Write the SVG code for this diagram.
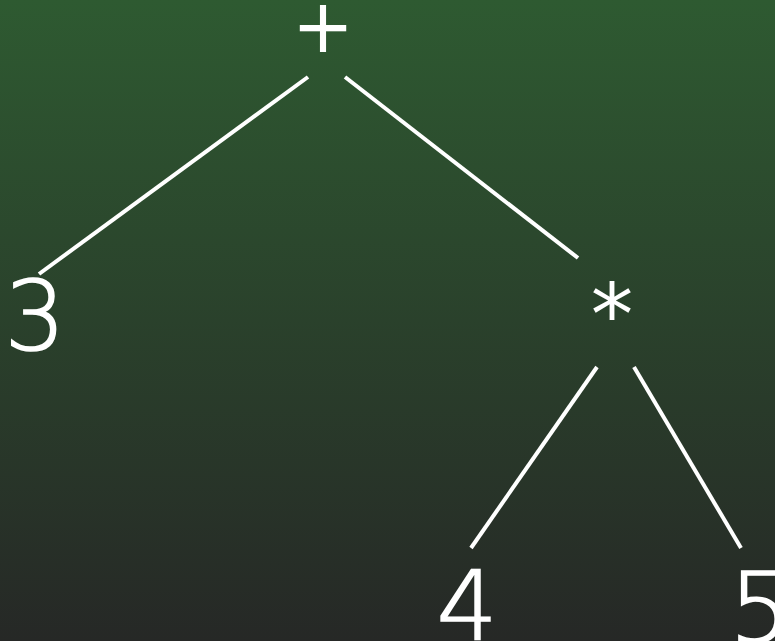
<svg xmlns="http://www.w3.org/2000/svg" width="775" height="641" viewBox="0 0 775 641">
<defs>
<linearGradient id="bg" x1="0" y1="0" x2="0" y2="1">
<stop offset="0" stop-color="#2e5a31"/>
<stop offset="1" stop-color="#262826"/>
</linearGradient>
<style>
.lbl{font-family:"DejaVu Sans",sans-serif;font-weight:200;font-size:96px;fill:#ffffff;stroke:#ffffff;stroke-width:1.6;text-anchor:middle}
.op{font-family:"DejaVu Sans",sans-serif;font-weight:400;fill:#ffffff;text-anchor:middle}
.edge{stroke:#ffffff;stroke-width:4;fill:none}
</style>
</defs>
<rect width="775" height="641" fill="url(#bg)"/>
<g id="edges">
<line class="edge" x1="308" y1="77" x2="39" y2="274"/>
<line class="edge" x1="345" y1="77" x2="578" y2="258"/>
<line class="edge" x1="597" y1="367" x2="471" y2="548"/>
<line class="edge" x1="634" y1="367" x2="741" y2="548"/>
</g>
<g id="plus"><text class="op" x="323" y="52" style="font-size:74px">+</text></g>
<g id="n3"><text class="lbl" x="35" y="350">3</text></g>
<g id="times"><text class="op" x="612" y="345" style="font-size:85px">*</text></g>
<g id="n4"><text class="lbl" x="467" y="640">4</text></g>
<g id="n5"><text class="lbl" x="760" y="642">5</text></g>
</svg>
